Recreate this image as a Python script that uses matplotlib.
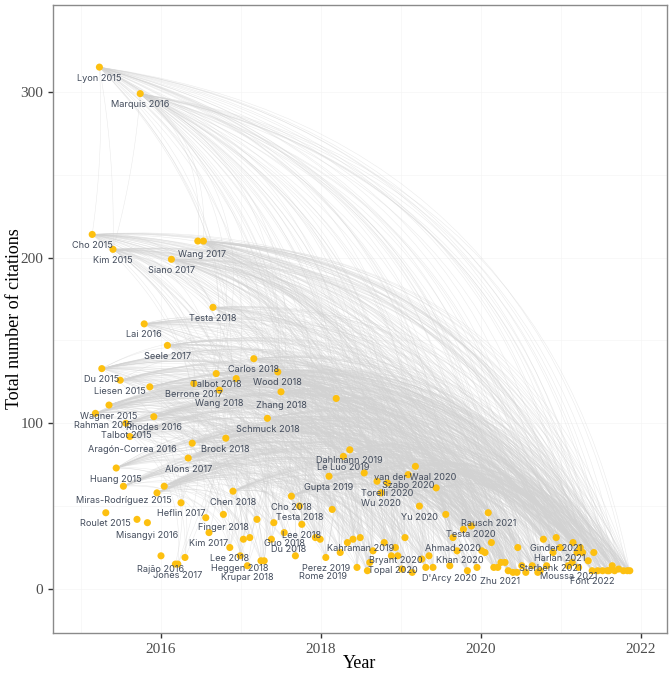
import numpy as np
import matplotlib.pyplot as plt
from matplotlib.collections import LineCollection

# ---- labelled papers: name, year (position on the time axis), total citations ----
named_papers = [
    "Lyon 2015", "Marquis 2016", "Cho 2015", "Kim 2015", "Wang 2017", "Siano 2017",
    "Testa 2018", "Lai 2016", "Seele 2017", "Carlos 2018", "Du 2015", "Liesen 2015",
    "Talbot 2018", "Berrone 2017", "Wang 2018", "Wood 2018", "Zhang 2018", "Wagner 2015",
    "Rahman 2015", "Rhodes 2016", "Talbot 2015", "Schmuck 2018", "Brock 2018",
    "Aragón-Correa 2016", "Alons 2017", "Huang 2015", "Miras-Rodríguez 2015", "Chen 2018",
    "Heflin 2017", "Roulet 2015", "Misangyi 2016", "Finger 2018", "Kim 2017", "Lee 2018",
    "Heggen 2018", "Krupar 2018", "Rajão 2016", "Jones 2017", "Cho 2018", "Testa 2018",
    "Lee 2018", "Guo 2018", "Du 2018", "Dahlmann 2019", "Le Luo 2019", "Gupta 2019",
    "van der Waal 2020", "Szabo 2020", "Torelli 2020", "Wu 2020", "Yu 2020", "Rausch 2021",
    "Testa 2020", "Kahraman 2019", "Perez 2019", "Rome 2019", "Bryant 2020", "Topal 2020",
    "Ahmad 2020", "Khan 2020", "D'Arcy 2020", "Zhu 2021", "Ginder 2021", "Harlan 2021",
    "Sterbenk 2021", "Moussa 2021", "Font 2022",
]
named_years = [
    2015.23, 2015.74, 2015.14, 2015.40, 2016.53, 2016.13,
    2016.65, 2015.79, 2016.08, 2017.16, 2015.26, 2015.49,
    2016.69, 2016.41, 2016.73, 2017.46, 2017.50, 2015.35,
    2015.18, 2015.91, 2015.56, 2017.33, 2016.81,
    2015.61, 2016.34, 2015.44, 2015.53, 2016.90,
    2016.25, 2015.31, 2015.83, 2016.78, 2016.60, 2016.86,
    2016.99, 2017.08, 2016.00, 2016.21, 2017.63, 2017.73,
    2017.76, 2017.54, 2017.38, 2018.36, 2018.28, 2018.10,
    2019.18, 2019.09, 2018.83, 2018.75, 2019.23, 2020.09,
    2019.88, 2018.49, 2018.06, 2018.45, 2018.93, 2018.88,
    2019.65, 2019.70, 2019.61, 2020.21, 2020.94, 2020.99,
    2020.90, 2021.09, 2021.39,
]
named_citations = [
    315, 299, 214, 205, 210, 199,
    170, 160, 147, 139, 133, 126,
    130, 124, 120, 131, 119, 111,
    106, 104, 100, 103, 91,
    92, 79, 73, 62, 59,
    52, 46, 40, 45, 34, 25,
    20, 14, 20, 15, 56, 50,
    39, 34, 30, 84, 80, 68,
    74, 69, 64, 58, 50, 46,
    38, 31, 19, 13, 25, 20,
    31, 23, 14, 13, 31, 25,
    22, 14, 11,
]

# ---- unlabelled papers ----
other_years = [
    2016.46, 2015.86, 2016.94, 2018.19, 2016.39, 2016.04, 2015.95, 2015.70, 2016.56,
    2017.20, 2017.41, 2017.03, 2017.11, 2017.25, 2017.29, 2016.18, 2016.30, 2017.68,
    2017.93, 2017.99, 2018.54, 2018.70, 2019.44, 2019.56, 2019.78, 2018.14, 2018.40,
    2018.33, 2018.24, 2018.79, 2019.05, 2018.65, 2018.96, 2018.61, 2018.58, 2019.01,
    2019.14, 2019.35, 2019.26, 2020.05, 2020.13, 2019.40, 2019.31, 2019.83, 2019.95,
    2020.01, 2020.16, 2020.25, 2020.30, 2020.34, 2020.40, 2020.45, 2020.46, 2020.51,
    2020.56, 2020.64, 2020.71, 2020.78, 2020.82, 2020.74, 2021.15, 2021.20, 2021.24,
    2021.27, 2021.41, 2021.34, 2021.14, 2021.22, 2021.46, 2021.52, 2021.58, 2021.60,
    2021.64, 2021.67, 2021.72, 2021.78, 2021.83, 2021.86,
]
other_citations = [
    210, 122, 127, 115, 88, 62, 58, 42, 43,
    42, 40, 30, 31, 17, 17, 15, 19, 20,
    31, 30, 70, 65, 61, 45, 36, 48, 30,
    28, 22, 28, 31, 23, 20, 16, 11, 12,
    10, 20, 18, 22, 28, 13, 13, 11, 13,
    23, 13, 16, 16, 11, 10, 10, 25, 14,
    10, 14, 10, 30, 14, 11, 28, 22, 25,
    22, 22, 17, 16, 13, 11, 11, 11, 11,
    14, 11, 12, 11, 11, 11,
]

# label placement tweaks (pixels: right, down); default is straight below the dot
label_shift = {
    "Rahman 2015": (8, 12), "Talbot 2015": (1, 12), "Aragón-Correa 2016": (3, 13),
    "Miras-Rodríguez 2015": (0, 14), "Misangyi 2016": (0, 13), "Finger 2018": (0, 13),
    "Rajão 2016": (0, 14), "Heggen 2018": (0, 13), "Wang 2017": (-1, 13),
    "Wang 2018": (0, 13), "Zhang 2018": (0, 14), "Du 2018": (17, 10),
    "Rome 2019": (-34, 9), "Topal 2020": (1, 15), "Khan 2020": (3, 10),
    "D'Arcy 2020": (0, 13), "Zhu 2021": (2, 14), "Sterbenk 2021": (-3, 16),
    "Krupar 2018": (0, 12), "Testa 2020": (-1, 9), "Bryant 2020": (0, 13),
}

# extra citation links seen as near-vertical strands
extra_links = [("Lyon 2015", "Kim 2015"), ("Marquis 2016", "Kim 2015"),
               ("Lyon 2015", "Cho 2015")]

x = np.array(named_years + other_years)
y = np.array(named_citations + other_citations, dtype=float)
n = len(x)

XLIM = (2014.65, 2022.325)
YLIM = (-26.6, 352.5)

fig = plt.figure(figsize=(6.72, 6.75), dpi=100)
ax = fig.add_axes([53 / 672, 1 - 633 / 675, 614 / 672, 628 / 675])
ax.set_xlim(*XLIM)
ax.set_ylim(*YLIM)


def to_frac(px, py):
    return (px - XLIM[0]) / (XLIM[1] - XLIM[0]), (py - YLIM[0]) / (YLIM[1] - YLIM[0])


def from_frac(u, v):
    return XLIM[0] + u * (XLIM[1] - XLIM[0]), YLIM[0] + v * (YLIM[1] - YLIM[0])


def curve(i, j, bend=0.35, steps=30):
    u0, v0 = to_frac(x[i], y[i])
    u1, v1 = to_frac(x[j], y[j])
    du, dv = u1 - u0, v1 - v0
    cu = (u0 + u1) / 2 - bend * dv
    cv = (v0 + v1) / 2 + bend * du
    t = np.linspace(0, 1, steps)
    uu = (1 - t) ** 2 * u0 + 2 * (1 - t) * t * cu + t ** 2 * u1
    vv = (1 - t) ** 2 * v0 + 2 * (1 - t) * t * cv + t ** 2 * v1
    return np.column_stack(from_frac(uu, vv))


# citation links: well-cited older papers linked to later ones
segs = []
hubs = [i for i in range(n) if y[i] >= 55]
for k, i in enumerate(hubs):
    targets = [j for j in range(n) if x[j] > x[i] + 0.9 and y[j] < y[i] - 5]
    for m, j in enumerate(targets):
        if (m + k) % 3 == 0:
            segs.append(curve(i, j))
name_idx = {}
for i, lab in enumerate(named_papers):
    name_idx.setdefault(lab, i)
for a, b in extra_links:
    segs.append(curve(name_idx[a], name_idx[b], bend=0.05))

ax.add_collection(LineCollection(segs, colors="#d2d2d2", linewidths=0.35,
                                 alpha=0.5, zorder=1))

ax.scatter(x, y, s=26, color="#FDC010", edgecolors="none", zorder=3)

for i, lab in enumerate(named_papers):
    dx, dy = label_shift.get(lab, (0, 11))
    ax.annotate(lab, (x[i], y[i]), xytext=(dx * 0.72, -dy * 0.72),
                textcoords="offset points", ha="center", va="center",
                fontsize=6.6, family="Inter", color="#434c5c", zorder=4)

ax.set_xticks([2016, 2018, 2020, 2022])
ax.set_yticks([0, 100, 200, 300])
ax.set_xticks([2015, 2017, 2019, 2021], minor=True)
ax.set_yticks([50, 150, 250], minor=True)
ax.grid(True, which="both", color="#f5f5f5", linewidth=0.5, zorder=0)
ax.set_axisbelow(True)
ax.tick_params(which="major", length=3.5, width=1, color="#333333",
               labelcolor="#4d4d4d", labelsize=11)
ax.tick_params(which="minor", length=0)
for lab in ax.get_xticklabels() + ax.get_yticklabels():
    lab.set_family("Liberation Serif")
for sp in ax.spines.values():
    sp.set_color("#8a8a8a")
    sp.set_linewidth(1)

ax.set_xlabel("Year", family="Liberation Serif", fontsize=13)
ax.set_ylabel("Total number of citations", family="Liberation Serif", fontsize=13)
ax.xaxis.label.set_verticalalignment("center")
ax.yaxis.label.set_verticalalignment("center")
ax.xaxis.set_label_coords(0.5, -0.048)
ax.yaxis.set_label_coords(-0.063, 0.5)

fig.savefig("out.png", dpi=100)
